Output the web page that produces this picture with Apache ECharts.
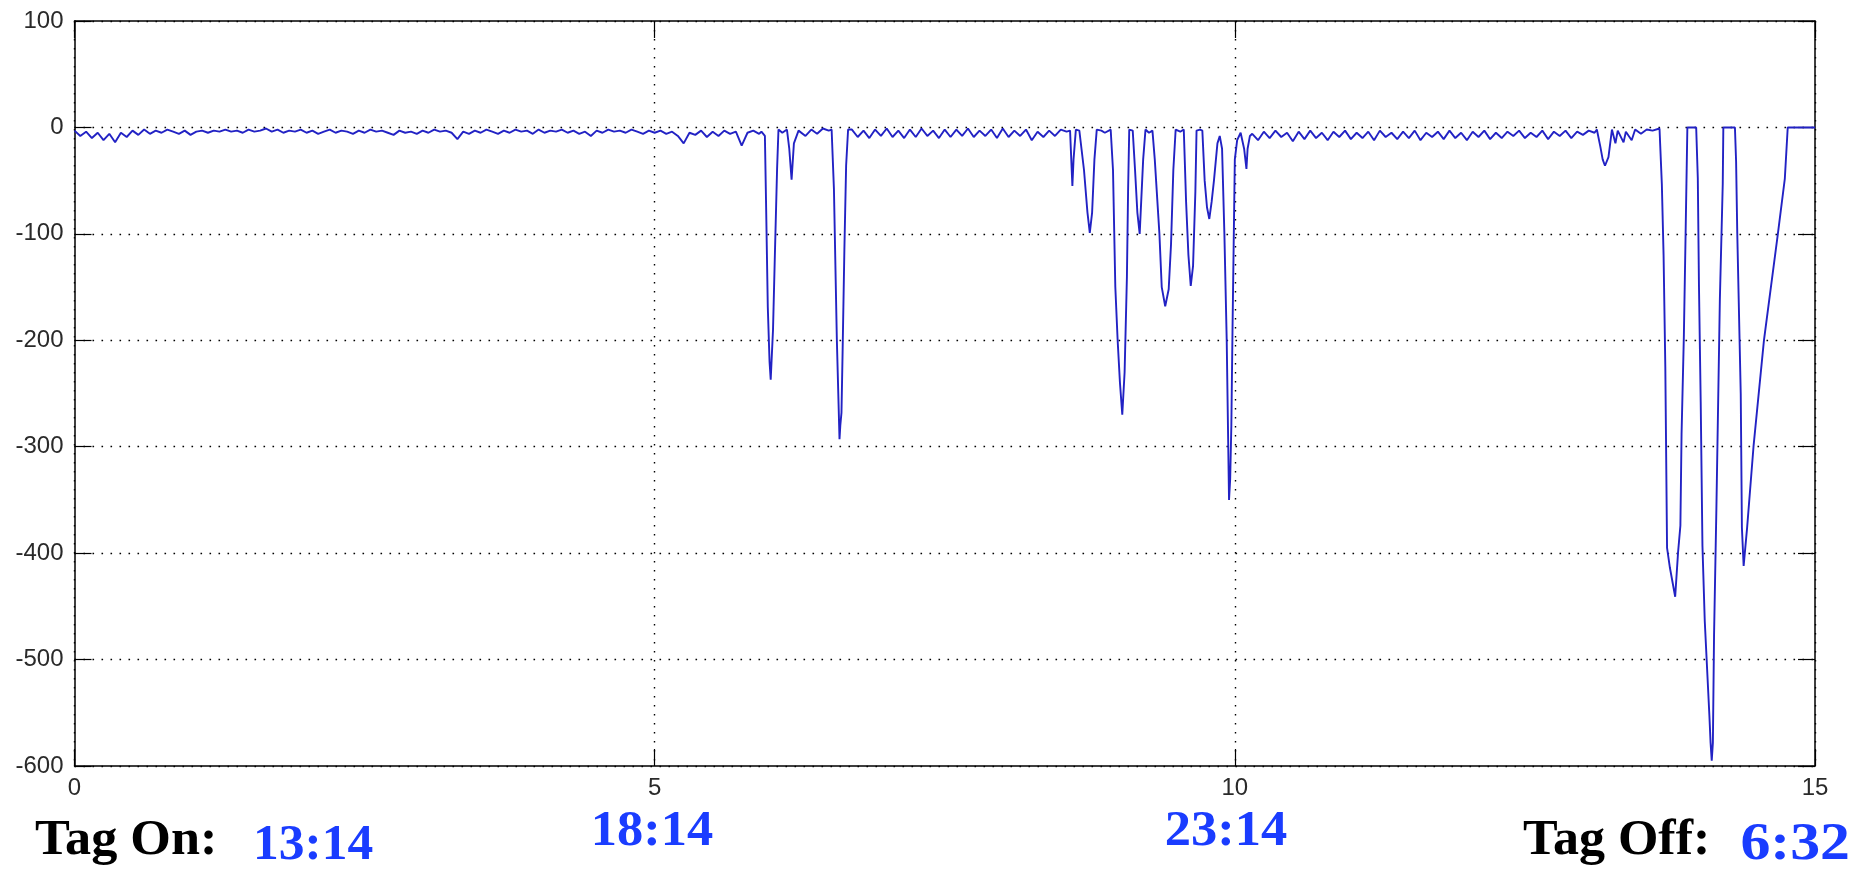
<!DOCTYPE html>
<html>
<head>
<meta charset="utf-8">
<script src="https://cdn.jsdelivr.net/npm/echarts@6/dist/echarts.min.js"></script>
<style>
html,body{margin:0;padding:0;background:#fff;}
#chart{width:1853px;height:871px;}
</style>
</head>
<body>
<div id="chart"></div>
<script>
// ---- data (hours since tag on, depth in metres) ----
const sampleStep = 0.05;

// quiet surface periods, sampled every 0.05 h
const quiet1Start = 0.0;
const quiet1 = [-3,-8,-4,-10,-5,-12,-6,-14,-5,-9,-3,-7,-2,-6,-3,-5,-2,-4,-6,-3,
  -7,-4,-3,-5,-3,-4,-2,-4,-3,-5,-2,-4,-3,-1,-4,-2,-5,-3,-4,-2,
  -5,-3,-6,-4,-2,-5,-3,-4,-6,-3,-5,-2,-4,-3,-5,-7,-3,-5,-4,-6,
  -3,-5,-2,-4,-3,-5,-11,-4,-6,-3,-5,-2,-4,-6,-3,-5,-2,-4,-3,-6,
  -2,-5,-3,-4,-2,-5,-3,-6,-4,-8,-3,-5,-2,-4,-3,-5,-2,-4,-6,-3,
  -5,-3,-6,-4,-8,-15,-5,-7,-3,-9,-4,-8,-3,-6,-4,-17,-5,-3,-6];

const quiet3Start = 6.70;
const quiet3 = [-2,-9,-3,-10,-2,-8,-1,-9,-3,-10,-2,-9,-1,-8,-3,-10,-2,-9,-2,-8,
  -1,-9,-3,-8,-2,-10,-1,-9,-3,-8,-2,-12,-4,-9,-3,-8,-2,-4];

const quiet4Start = 10.15;
const quiet4 = [-6,-12,-4,-10,-3,-9,-5,-13,-4,-11,-3,-10,-5,-12,-4,-9,-3,-11,-5,-10,
  -4,-12,-3,-9,-5,-11,-4,-10,-3,-12,-5,-9,-4,-11,-3,-10,-5,-12,-4,-9,
  -3,-11,-5,-10,-4,-8,-3,-10,-5,-9,-3,-11,-4,-8,-3,-10,-4,-7,-3,-5];

// dives and short surface bits, explicit times
const diveA_t = [5.92,5.95,5.96,5.975,5.99,6.00,6.02,6.035,6.055,6.067];
const diveA_d = [-4,-8,-71,-169,-220,-237,-190,-124,-39,-2];

const gapB_t = [6.10,6.14,6.16,6.18,6.20,6.24,6.30,6.35,6.40,6.45,6.50];
const gapB_d = [-5,-2,-20,-49,-15,-3,-8,-2,-6,-1,-3];

const diveB_t = [6.525,6.545,6.56,6.57,6.593,6.60,6.61,6.62,6.635,6.65,6.667];
const diveB_d = [-2,-58,-143,-199,-293,-280,-268,-209,-115,-36,-2];

const clusterC_t = [8.58,8.60,8.61,8.63,8.66,8.70,8.73,8.75,8.77,8.79,8.81,8.85,8.88,8.93,
  8.95,8.97,8.99,9.01,9.03,9.05,9.07,9.08,9.09,9.12,9.14,9.16,9.18,9.21,9.23,9.26,9.29,
  9.31,9.35,9.37,9.40,9.43,9.45,9.47,9.49,9.53,9.56,9.58,9.60,9.62,9.64,9.66,9.67,9.70,
  9.72,9.74,9.76,9.78,9.80,9.82,9.85,9.87,9.89,9.91,9.93,9.95,9.96,9.97,9.98,9.99,10.00,
  10.02,10.05,10.08,10.10,10.11,10.13];
const clusterC_d = [-3,-55,-30,-2,-3,-40,-80,-99,-80,-30,-2,-3,-5,-2,
  -40,-150,-200,-240,-270,-230,-140,-60,-2,-3,-40,-80,-100,-30,-2,-5,-3,
  -30,-100,-150,-168,-152,-110,-40,-2,-4,-2,-70,-120,-149,-130,-60,-3,-2,
  -3,-50,-75,-86,-70,-50,-15,-8,-20,-100,-200,-350,-330,-280,-190,-110,-30,
  -12,-5,-20,-39,-20,-8];

const gapD_t = [13.12,13.15,13.17,13.19,13.22,13.25,13.28,13.30,13.35,13.37,13.42,13.45,13.50,13.55,13.60,13.66];
const gapD_d = [-2,-18,-30,-36,-28,-2,-15,-3,-14,-4,-12,-2,-6,-2,-3,-1];

const diveD_t = [13.67,13.68,13.695,13.71,13.725,13.75,13.795,13.82,13.84,13.85,13.87,13.885,13.90,13.976];
const diveD_d = [-2,-53,-120,-225,-395,-414,-441,-399,-374,-288,-195,-99,0,0];

const diveE_t = [13.99,14.00,14.015,14.03,14.05,14.09,14.10,14.11,14.12,14.13,14.15,14.18,14.205,14.21,14.31];
const diveE_d = [-48,-149,-258,-393,-464,-553,-578,-595,-578,-477,-359,-162,-53,0,0];

const diveF_t = [14.32,14.33,14.36,14.37,14.385,14.415,14.47,14.56,14.68,14.74,14.765,15.0];
const diveF_d = [-32,-99,-250,-376,-412,-376,-300,-200,-100,-48,0,0];

const xTicks = [0, 5, 10, 15];
const yTicks = [100, 0, -100, -200, -300, -400, -500, -600];
const clockLabels = ['13:14', '18:14', '23:14', '6:32'];

// ---- build series ----
const pts = [];
function addQuiet(start, arr){ arr.forEach((d,i)=>pts.push([+(start + i*sampleStep).toFixed(3), d])); }
function addPairs(ts, ds){ ts.forEach((t,i)=>pts.push([t, ds[i]])); }
addQuiet(quiet1Start, quiet1);
addPairs(diveA_t, diveA_d);
addPairs(gapB_t, gapB_d);
addPairs(diveB_t, diveB_d);
addQuiet(quiet3Start, quiet3);
addPairs(clusterC_t, clusterC_d);
addQuiet(quiet4Start, quiet4);
addPairs(gapD_t, gapD_d);
addPairs(diveD_t, diveD_d);
addPairs(diveE_t, diveE_d);
addPairs(diveF_t, diveF_d);
pts.sort((a,b)=>a[0]-b[0]);

const frame = {color:'#000', width:1.5};
const tickStyle = {color:'#000', width:1.2};
const dotted = {type:[1.6,7.4], color:'#000', width:1.4};
const bigFont = 'bold 50px "Liberation Serif"';
const blue = '#1a3cff';
const tickFont = '24px "Liberation Sans"';

const chart = echarts.init(document.getElementById('chart'), null, {renderer:'canvas'});
const baseGraphic = [
  {type:'text', x:35, y:841, scaleX:1.045, style:{text:'Tag On:', fill:'#000', font:bigFont, textAlign:'left', textVerticalAlign:'middle'}},
  {type:'text', x:253, y:846, scaleX:1.03, style:{text:clockLabels[0], fill:blue, font:bigFont, textAlign:'left', textVerticalAlign:'middle'}},
  {type:'text', x:652, y:832, scaleX:1.05, style:{text:clockLabels[1], fill:blue, font:bigFont, textAlign:'center', textVerticalAlign:'middle'}},
  {type:'text', x:1226, y:832, scaleX:1.05, style:{text:clockLabels[2], fill:blue, font:bigFont, textAlign:'center', textVerticalAlign:'middle'}},
  {type:'text', x:1523, y:841, scaleX:1.04, style:{text:'Tag Off:', fill:'#000', font:bigFont, textAlign:'left', textVerticalAlign:'middle'}},
  {type:'text', x:1850, y:846, scaleX:1.15, style:{text:clockLabels[3], fill:blue, font:'bold 52px "Liberation Serif"', textAlign:'right', textVerticalAlign:'middle'}}
];
chart.setOption({
  animation:false,
  backgroundColor:'#fff',
  grid:{left:74.5, right:38, top:21, bottom:105, containLabel:false},
  xAxis:[{
    type:'value', min:xTicks[0], max:xTicks[xTicks.length-1], interval:5, position:'bottom',
    axisLine:{show:true, onZero:false, lineStyle:frame},
    axisTick:{show:true, inside:true, length:17, lineStyle:tickStyle},
    axisLabel:{show:false},
    splitLine:{show:true, lineStyle:dotted}
  },{
    type:'value', min:xTicks[0], max:xTicks[xTicks.length-1], interval:5, position:'top',
    axisLine:{show:true, onZero:false, lineStyle:frame},
    axisTick:{show:true, inside:true, length:17, lineStyle:tickStyle},
    axisLabel:{show:false}, splitLine:{show:false}
  }],
  yAxis:[{
    type:'value', min:yTicks[yTicks.length-1], max:yTicks[0], interval:100, position:'left',
    axisLine:{show:true, onZero:false, lineStyle:frame},
    axisTick:{show:true, inside:true, length:17, lineStyle:tickStyle},
    axisLabel:{show:true, margin:11, fontSize:24, color:'#2a2a2a', fontFamily:'Liberation Sans'},
    splitLine:{show:true, lineStyle:dotted}
  },{
    type:'value', min:yTicks[yTicks.length-1], max:yTicks[0], interval:100, position:'right',
    axisLine:{show:true, onZero:false, lineStyle:frame},
    axisTick:{show:true, inside:true, length:17, lineStyle:tickStyle},
    axisLabel:{show:false}, splitLine:{show:false}
  }],
  series:[{
    type:'line', xAxisIndex:0, yAxisIndex:0, data:pts, showSymbol:false,
    lineStyle:{color:'#2222c4', width:1.9}, z:5
  }],
  graphic:baseGraphic
});

// x tick labels placed through the axis scale
const xLabelGraphic = xTicks.map(v => {
  const p = chart.convertToPixel({xAxisIndex:0, yAxisIndex:0}, [v, yTicks[yTicks.length-1]]);
  return {type:'text', x:p[0], y:p[1] + 22.5,
    style:{text:String(v), fill:'#2a2a2a', font:tickFont, textAlign:'center', textVerticalAlign:'middle'}};
});
chart.setOption({graphic: baseGraphic.concat(xLabelGraphic)});
</script>
</body>
</html>
